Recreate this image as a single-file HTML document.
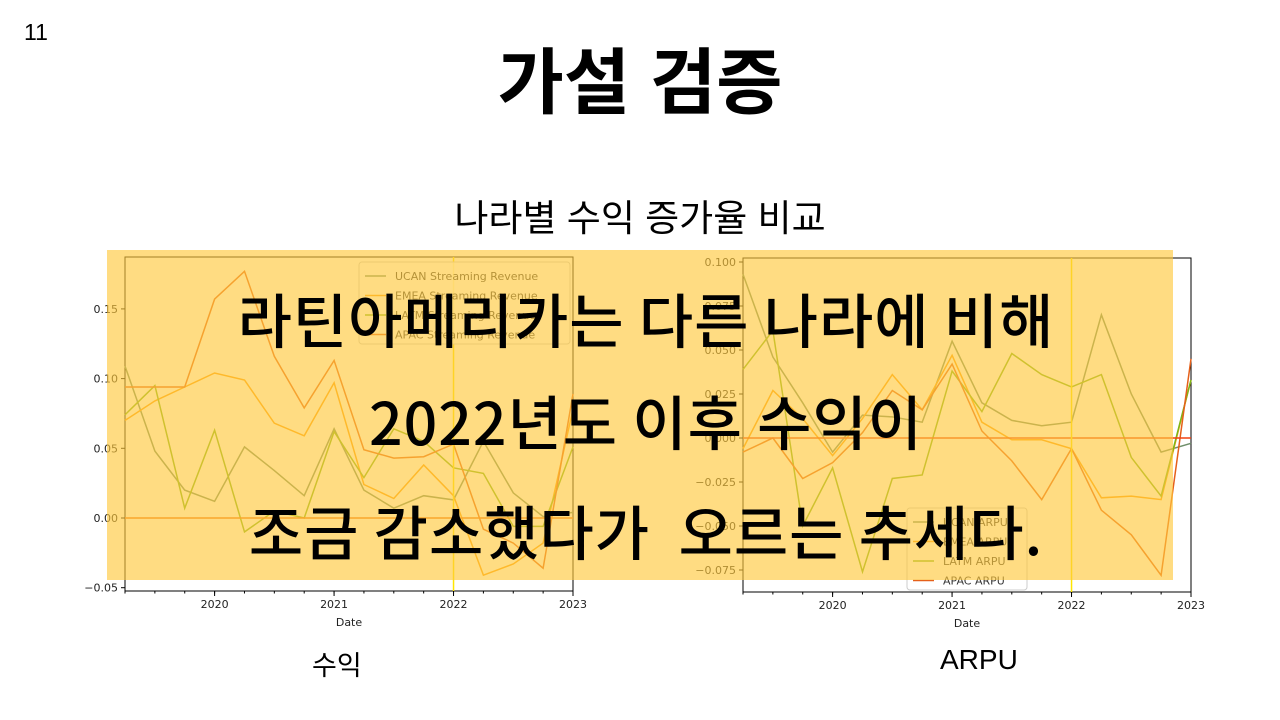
<!DOCTYPE html>
<html><head><meta charset="utf-8">
<style>
html,body{margin:0;padding:0;background:#fff;}
body{width:1280px;height:720px;position:relative;overflow:hidden;font-family:"Liberation Sans","Noto Sans CJK KR",sans-serif;}
.t{position:absolute;white-space:nowrap;color:#000;font-family:"Liberation Sans","Noto Sans CJK KR",sans-serif;}
.o{position:absolute;white-space:nowrap;color:#000;font-family:"Noto Sans CJK KR",sans-serif;left:0;width:1292px;text-align:center;font-size:59px;font-weight:500;letter-spacing:1px;}
svg text{font-family:"DejaVu Sans","Liberation Sans",sans-serif;}
</style></head>
<body>
<div class="t" style="left:24px;top:19px;font-size:23px;">11</div>
<div class="t" style="left:0;width:1280px;text-align:center;top:24px;font-size:72px;font-weight:700;">가설 검증</div>
<div class="t" style="left:0;width:1280px;text-align:center;top:188px;font-size:37px;font-weight:400;">나라별 수익 증가율 비교</div>

<svg id="chart" width="1280" height="720" style="position:absolute;left:0;top:0;"></svg>

<div style="position:absolute;left:107px;top:250px;width:1066px;height:330px;background:rgba(255,200,60,0.64);"></div>
<div class="o" style="top:275px;">라틴아메리카는 다른 나라에 비해</div>
<div class="o" style="top:377px;">2022년도 이후 수익이</div>
<div class="o" style="top:487px;">조금 감소했다가&nbsp; 오르는 추세다.</div>

<div class="t" style="left:312px;top:644px;font-size:27px;">수익</div>
<div class="t" style="left:940px;top:644px;font-size:28px;">ARPU</div>

<script>
const quarters = [2019.25,2019.5,2019.75,2020,2020.25,2020.5,2020.75,2021,2021.25,2021.5,2021.75,2022,2022.25,2022.5,2022.75,2023];
const revUCAN = [0.109,0.048,0.020,0.012,0.051,0.034,0.016,0.064,0.020,0.007,0.016,0.013,0.055,0.018,0.001,0.004];
const revEMEA = [0.070,0.084,0.094,0.104,0.099,0.068,0.059,0.097,0.024,0.014,0.038,0.016,-0.041,-0.033,-0.018,0.078];
const revLATM = [0.074,0.095,0.007,0.063,-0.010,0.005,0.000,0.062,0.029,0.064,0.055,0.036,0.032,-0.006,-0.006,0.051];
const revAPAC = [0.094,0.094,0.094,0.157,0.177,0.116,0.079,0.113,0.049,0.043,0.044,0.053,-0.008,-0.018,-0.036,0.089];
const arpuUCAN = [0.093,0.046,0.020,-0.008,0.013,0.012,0.009,0.055,0.020,0.010,0.007,0.009,0.070,0.025,-0.008,-0.003];
const arpuEMEA = [-0.006,0.027,0.011,-0.010,0.011,0.036,0.016,0.047,0.009,-0.001,-0.001,-0.006,-0.034,-0.033,-0.035,0.033];
const arpuLATM = [0.039,0.061,-0.050,-0.017,-0.076,-0.023,-0.021,0.038,0.015,0.048,0.036,0.029,0.036,-0.011,-0.033,0.033];
const arpuAPAC = [-0.008,0.000,-0.023,-0.014,0.003,0.027,0.016,0.042,0.004,-0.013,-0.035,-0.006,-0.041,-0.055,-0.078,0.045];
const revTicks = [-0.05,0.00,0.05,0.10,0.15];
const revTickLabels = ["\u22120.05","0.00","0.05","0.10","0.15"];
const arpuTicks = [-0.075,-0.050,-0.025,0.000,0.025,0.050,0.075,0.100];
const arpuTickLabels = ["\u22120.075","\u22120.050","\u22120.025","0.000","0.025","0.050","0.075","0.100"];
const yearTicks = [2020,2021,2022,2023];
const revLegend = ["UCAN Streaming Revenue","EMEA Streaming Revenue","LATM Streaming Revenue","APAC Streaming Revenue"];
const arpuLegend = ["UCAN  ARPU","EMEA  ARPU","LATM  ARPU","APAC  ARPU"];
const colors = ["#6f8f6a","#ff9f10","#7cb518","#e5601a"];

const svg = document.getElementById('chart');
const NS = 'http://www.w3.org/2000/svg';
function mk(tag, attrs, parent){
  const e = document.createElementNS(NS, tag);
  for (const k in attrs) e.setAttribute(k, attrs[k]);
  (parent||svg).appendChild(e);
  return e;
}

function drawChart(cfg){
  const g = mk('g', {});
  
  
  const xs = v => cfg.x0 + (v - 2019.25) / (2023 - 2019.25) * (cfg.x1 - cfg.x0);
  const ys = v => cfg.yZero - v * cfg.yScale;
  const fr = mk('rect', {x:cfg.x0, y:cfg.top, width:cfg.x1-cfg.x0, height:cfg.bottom-cfg.top, fill:'none', stroke:'#000', 'stroke-width':1}, g);
  
  
  cfg.yTicks.forEach((t,i)=>{
    const y = ys(t);
    mk('line', {x1:cfg.x0-4, x2:cfg.x0, y1:y, y2:y, stroke:'#000'}, g);
    const tx = mk('text', {x:cfg.x0-7, y:y+4, 'font-size':11, 'text-anchor':'end', fill:'#222'}, g);
    
    
    tx.textContent = cfg.yLabels[i];
  });
  quarters.forEach(q=>{ mk('line', {x1:xs(q), x2:xs(q), y1:cfg.bottom, y2:cfg.bottom+2.5, stroke:'#000'}, g); });
  yearTicks.forEach(t=>{
    mk('line', {x1:xs(t), x2:xs(t), y1:cfg.bottom, y2:cfg.bottom+5, stroke:'#000'}, g);
    const tx = mk('text', {x:xs(t), y:cfg.bottom+17, 'font-size':11, 'text-anchor':'middle', fill:'#222'}, g);
    
    
    tx.textContent = t;
  });
  const xt = mk('text', {x:(cfg.x0+cfg.x1)/2, y:cfg.bottom+35, 'font-size':11, 'text-anchor':'middle', fill:'#222'}, g);
  
  
  xt.textContent = 'Date';
  cfg.series.forEach((s,i)=>{
    const p = mk('polyline', {points: s.map((v,j)=>xs(quarters[j]).toFixed(1)+','+ys(v).toFixed(1)).join(' '), fill:'none', stroke:colors[i], 'stroke-width':1.5}, g);
    
    
  });
  const z = mk('line', {x1:cfg.x0, x2:cfg.x1, y1:ys(0), y2:ys(0), stroke:cfg.zeroColor, 'stroke-width':1.5}, g);
  
  
  const vl = mk('line', {x1:xs(2022), x2:xs(2022), y1:cfg.top, y2:cfg.bottom, stroke:'#ffe600', 'stroke-width':1.5}, g);
  
  
  const lg = mk('g', {}, g);
  
  
  mk('rect', {x:cfg.lx, y:cfg.ly, width:cfg.lw, height:82, rx:3, fill:'#fff', 'fill-opacity':0.8, stroke:'#ccc'}, lg);
  cfg.legend.forEach((name,i)=>{
    const yy = cfg.ly + 14 + i*19.5;
    mk('line', {x1:cfg.lx+6, x2:cfg.lx+27, y1:yy, y2:yy, stroke:colors[i], 'stroke-width':1.5}, lg);
    const tx = mk('text', {x:cfg.lx+36, y:yy+4, 'font-size':11, fill:'#333'}, lg);
    
    
    tx.textContent = name;
  });
}

drawChart({name:'revenue-chart', x0:125, x1:573, top:257, bottom:591, yZero:518, yScale:1394,
  yTicks:revTicks, yLabels:revTickLabels, series:[revUCAN,revEMEA,revLATM,revAPAC], legend:revLegend,
  zeroColor:'#f06a10', lx:359, ly:262, lw:211});
drawChart({name:'arpu-chart', x0:743, x1:1191, top:258, bottom:592, yZero:438, yScale:1760,
  yTicks:arpuTicks, yLabels:arpuTickLabels, series:[arpuUCAN,arpuEMEA,arpuLATM,arpuAPAC], legend:arpuLegend,
  zeroColor:'#f04010', lx:907, ly:508, lw:120});
</script>
</body></html>
